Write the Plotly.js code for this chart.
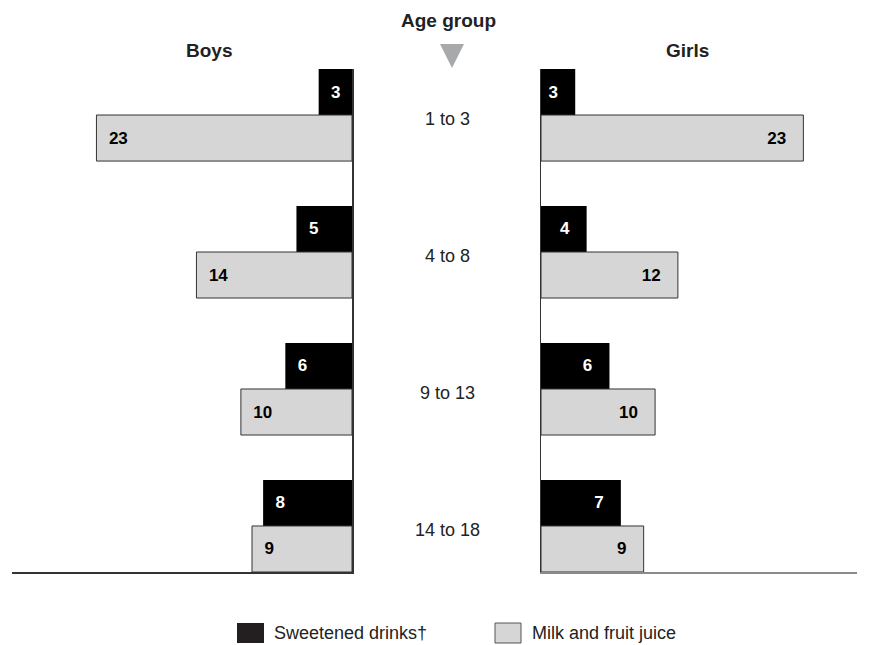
<!DOCTYPE html>
<html>
<head>
<meta charset="utf-8">
<script src="https://cdn.plot.ly/plotly-3.0.1.min.js"></script>
<style>html,body{margin:0;padding:0;background:#fff;}#chart{width:887px;height:645px;}</style>
</head>
<body>
<div id="chart"></div>
<script>
const ageGroups = ["1 to 3", "4 to 8", "9 to 13", "14 to 18"];
const boysSweetened = [3, 5, 6, 8];
const boysMilkJuice = [23, 14, 10, 9];
const girlsSweetened = [3, 4, 6, 7];
const girlsMilkJuice = [23, 12, 10, 9];
const seriesNames = ["Sweetened drinks†", "Milk and fruit juice"];
const panelTitles = ["Boys", "Girls"];
const centerTitle = "Age group";

const W = 887, H = 645;
const px = v => v / W;
const py = v => 1 - v / H;

const sans = "Liberation Sans, Arial, Helvetica, sans-serif";
const BLACK = "#000000", GREY = "#d6d6d6", EDGE = "#333333";
const nb = "\u00a0";

function bar(vals, name, xa, ya, color, txtColor, left, showEdge) {
  return {
    type: "bar", orientation: "h", name: name,
    x: vals, y: ageGroups, xaxis: xa, yaxis: ya,
    marker: {color: color, line: {color: showEdge ? EDGE : color, width: showEdge ? 1 : 0}},
    text: vals.map(v => String(v)),
    texttemplate: left ? nb + nb + "%{text}" : "%{text}" + nb + nb + nb,
    textposition: "inside", insidetextanchor: "end", textangle: 0,
    textfont: {family: sans, size: 17, color: txtColor, weight: "bold"},
    cliponaxis: false, showlegend: false, hoverinfo: "skip"
  };
}

const data = [
  bar(boysSweetened, seriesNames[0], "x", "y", BLACK, "#ffffff", true, false),
  bar(boysMilkJuice, seriesNames[1], "x", "y", GREY, "#000000", true, true),
  bar(girlsSweetened, seriesNames[0], "x2", "y2", BLACK, "#ffffff", false, false),
  bar(girlsMilkJuice, seriesNames[1], "x2", "y2", GREY, "#000000", false, true)
];

const yDomain = [py(572), py(69)];
const yRange = [3.336, -0.336];

function note(text, x, y, size, anchor) {
  return {text: text, x: px(x), y: py(y), xref: "paper", yref: "paper",
          xanchor: anchor || "center", yanchor: "middle", showarrow: false,
          font: {family: sans, size: size, color: "#222"}};
}

const annotations = [
  note("<b>" + panelTitles[0] + "</b>", 209, 50, 19),
  note("<b>" + panelTitles[1] + "</b>", 687, 50, 19),
  note("<b>" + centerTitle + "</b>", 448, 20, 19),
  note(seriesNames[0], 272, 633, 18, "left"),
  note(seriesNames[1], 530, 633, 18, "left")
].concat(ageGroups.map(g => ({
  text: g, x: px(447), y: g, xref: "paper", yref: "y", yanchor: "middle", showarrow: false, yshift: -4,
  font: {family: sans, size: 18, color: "#222"}
})));

const shapes = [
  {type: "path", xref: "paper", yref: "paper",
   path: `M ${px(440)} ${py(44)} L ${px(464)} ${py(44)} L ${px(452)} ${py(68)} Z`,
   fillcolor: "#a8a9ab", line: {width: 0}},
  {type: "rect", xref: "paper", yref: "paper", x0: px(237), x1: px(264), y0: py(643), y1: py(623),
   fillcolor: "#231f20", line: {width: 0}},
  {type: "rect", xref: "paper", yref: "paper", x0: px(495), x1: px(521), y0: py(643), y1: py(623),
   fillcolor: GREY, line: {color: "#555", width: 1}}
];

const layout = {
  width: W, height: H,
  margin: {l: 0, r: 0, t: 0, b: 0},
  paper_bgcolor: "#ffffff", plot_bgcolor: "rgba(0,0,0,0)",
  barmode: "group", bargap: 0.328, bargroupgap: 0,
  showlegend: false,
  xaxis: {domain: [px(12), px(352)], range: [30.6, 0], anchor: "y",
          showgrid: false, zeroline: false, showticklabels: false, ticks: "",
          showline: true, linecolor: "#333", linewidth: 1.5, fixedrange: true},
  yaxis: {domain: yDomain, range: yRange, anchor: "x", side: "right", type: "category",
          showgrid: false, zeroline: false, showticklabels: false, ticks: "",
          showline: true, linecolor: "#333", linewidth: 1.5, fixedrange: true},
  xaxis2: {domain: [px(541), px(857)], range: [0, 27.7], anchor: "y2",
           showgrid: false, zeroline: false, showticklabels: false, ticks: "",
           showline: true, linecolor: "#8a8a8a", linewidth: 2, fixedrange: true},
  yaxis2: {domain: yDomain, range: yRange, anchor: "x2", side: "left", type: "category",
           showgrid: false, zeroline: false, showticklabels: false, ticks: "",
           showline: true, linecolor: "#333", linewidth: 1.5, fixedrange: true},
  annotations: annotations,
  shapes: shapes,
  font: {family: sans}
};

Plotly.newPlot("chart", data, layout, {displayModeBar: false, staticPlot: true});
</script>
</body>
</html>
